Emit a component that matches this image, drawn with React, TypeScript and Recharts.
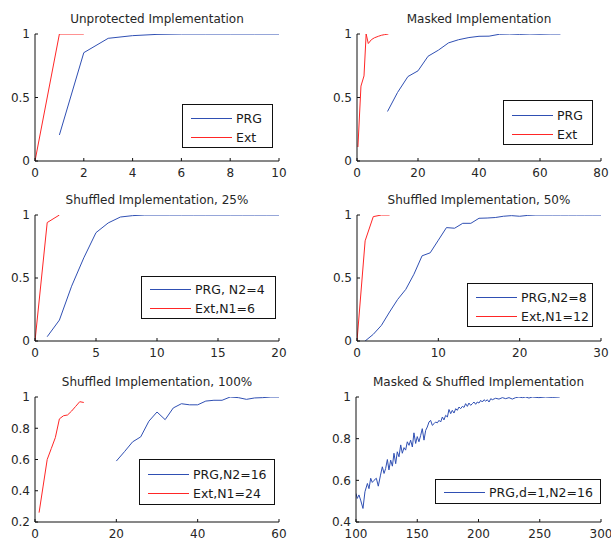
import React from 'react';
import { LineChart, Line, XAxis, YAxis, Legend } from 'recharts';

const FONT = '"DejaVu Sans", Verdana, sans-serif';
const BLUE = '#2f4fb3';
const RED = '#ff2626';

// Panel 1: Unprotected
const p1PrgX = [1, 2, 3, 4, 5, 6, 7, 8, 9, 10];
const p1PrgY = [0.205, 0.853, 0.966, 0.987, 0.997, 1, 1, 1, 1, 1];
const p1ExtX = [0, 1, 2];
const p1ExtY = [0, 1, 1];

// Panel 2: Masked
const p2PrgX = [10, 13.3, 16.7, 20, 23.3, 26.7, 30, 33.3, 36.7, 40, 43.3, 46.7, 50, 53.3, 56.7, 60, 63.3, 66.7];
const p2PrgY = [0.39, 0.54, 0.665, 0.71, 0.825, 0.873, 0.93, 0.955, 0.972, 0.982, 0.983, 0.998, 1, 0.997, 1, 0.998, 1, 1];
const p2ExtX = [0.3, 1.3, 2.3, 3, 3.7, 4.7, 5.7, 7, 8, 9, 10.3];
const p2ExtY = [0.11, 0.59, 0.67, 1, 0.925, 0.955, 0.97, 0.982, 0.99, 0.995, 1];

// Panel 3: Shuffled 25%
const p3PrgX = [1, 2, 3, 4, 5, 6, 7, 8, 9, 10, 11, 12, 13, 14, 15, 16, 17, 18, 19, 20];
const p3PrgY = [0.034, 0.166, 0.435, 0.66, 0.86, 0.937, 0.984, 0.995, 1, 1, 1, 1, 1, 1, 1, 1, 1, 1, 1, 1];
const p3ExtX = [0, 1, 2];
const p3ExtY = [0, 0.94, 1];

// Panel 4: Shuffled 50%
const p4PrgX = [1, 2, 3, 4, 5, 6, 7, 8, 9, 10, 11, 12, 13, 14, 15, 16, 17, 18, 19, 20, 21, 22, 23, 24, 25, 26, 27, 28, 29, 30];
const p4PrgY = [0, 0.053, 0.124, 0.23, 0.33, 0.41, 0.53, 0.676, 0.7, 0.8, 0.9, 0.895, 0.934, 0.934, 0.974, 0.976, 0.98, 0.99, 0.995, 0.99, 0.997, 1, 1, 1, 1, 1, 1, 1, 1, 1];
const p4ExtX = [0, 1, 2, 3, 4];
const p4ExtY = [0, 0.795, 0.987, 1, 1];

// Panel 5: Shuffled 100%
const p5PrgX = [20, 22, 24, 26, 28, 30, 32, 34, 36, 38, 40, 42, 44, 46, 48, 50, 52, 54, 56, 58, 60];
const p5PrgY = [0.59, 0.65, 0.713, 0.745, 0.845, 0.904, 0.855, 0.93, 0.957, 0.95, 0.95, 0.974, 0.979, 0.979, 1, 0.996, 0.985, 0.994, 0.996, 1, 1];
const p5ExtX = [1, 2, 3, 4, 5, 6, 7, 8, 9, 10, 11, 12];
const p5ExtY = [0.26, 0.43, 0.6, 0.67, 0.74, 0.86, 0.88, 0.885, 0.91, 0.94, 0.97, 0.965];

// Panel 6: Masked & Shuffled
const p6PrgX = [100, 101, 102.4, 103.8, 105.7, 107.3, 109.3, 110.6, 112, 113.3, 114.7, 116.6, 118.2, 120, 121.5, 122.9, 124.2, 125.6, 126.9, 128.3, 129.7, 131, 132.4, 133.7, 135.1, 136.5, 137.8, 139.2, 140.5, 141.9, 143.3, 144.6, 146, 147.3, 148.7, 150, 151.4, 152.8, 154.1, 155.5, 156.9, 158.2, 159.6, 160.9, 162.3, 163.7, 165, 166.4, 167.8, 169.1, 170.5, 171.8, 173.2, 174.6, 175.9, 177.3, 178.6, 180, 181.4, 182.7, 184.1, 185.4, 186.8, 188.2, 189.5, 190.9, 192.2, 193.6, 195, 196.3, 197.7, 199, 200.4, 201.8, 203.1, 204.5, 205.9, 207.2, 208.6, 210, 211.3, 214, 216.7, 219.5, 222.2, 224.9, 227.6, 230.3, 233, 235.8, 238.5, 241.2, 243.9, 249.3, 254.7, 260.2, 266.3];
const p6PrgY = [0.537, 0.513, 0.53, 0.505, 0.465, 0.545, 0.585, 0.56, 0.61, 0.59, 0.6, 0.61, 0.572, 0.625, 0.665, 0.633, 0.657, 0.7, 0.65, 0.697, 0.668, 0.73, 0.68, 0.737, 0.713, 0.77, 0.73, 0.757, 0.745, 0.785, 0.768, 0.793, 0.76, 0.828, 0.777, 0.81, 0.785, 0.816, 0.848, 0.793, 0.84, 0.856, 0.88, 0.888, 0.864, 0.872, 0.88, 0.876, 0.888, 0.88, 0.904, 0.89, 0.912, 0.904, 0.94, 0.92, 0.936, 0.923, 0.944, 0.936, 0.952, 0.944, 0.955, 0.95, 0.968, 0.955, 0.971, 0.96, 0.968, 0.976, 0.965, 0.976, 0.971, 0.984, 0.976, 0.987, 0.98, 0.987, 0.976, 0.992, 0.987, 0.994, 0.99, 0.997, 0.992, 0.997, 0.99, 0.997, 1, 0.997, 1, 0.995, 1, 0.997, 1, 0.998, 1];

const zip = (xs: number[], ys: number[]) => xs.map((x, i) => ({ x, y: ys[i] }));

type Series = { name: string; color: string; data: { x: number; y: number }[] };
type LegendRect = { left: number; top: number; width: number; height: number; padTop: number };
type PanelProps = {
  title: string;
  plotLeft: number;
  plotTop: number;
  plotW: number;
  plotH: number;
  xDomain: [number, number];
  xTicks: number[];
  yDomain: [number, number];
  yTicks: number[];
  series: Series[];
  legend: LegendRect;
};

const YW = 40;
const MT = 34;
const MR = 10;
const XH = 19;
const TICK = { fontFamily: FONT, fontSize: 12, fill: '#262626' };

const LegendBox = (props: any) => {
  const { payload, padTop, order } = props;
  const items = [...(payload || [])].sort(
    (a: any, b: any) => order.indexOf(a.value) - order.indexOf(b.value)
  );
  return (
    <div
      style={{
        width: '100%',
        height: '100%',
        boxSizing: 'border-box',
        border: '1px solid #111',
        background: '#fff',
        paddingTop: padTop,
      }}
    >
      {items.map((p: any, i: number) => (
        <div key={i} style={{ display: 'flex', alignItems: 'center', height: 19 }}>
          <div style={{ marginLeft: 8, width: 41, height: 0, borderTop: `1px solid ${p.color}` }} />
          <span
            style={{
              marginLeft: 4,
              fontFamily: FONT,
              fontSize: 12.5,
              color: '#1a1a1a',
              whiteSpace: 'nowrap',
              lineHeight: '19px',
            }}
          >
            {p.value}
          </span>
        </div>
      ))}
    </div>
  );
};

const Panel = (p: PanelProps) => {
  const cLeft = p.plotLeft - YW;
  const cTop = p.plotTop - MT;
  const width = YW + p.plotW + MR;
  const height = MT + p.plotH + XH;
  const order = p.series.map((s) => s.name);
  return (
    <>
      <div
        style={{
          position: 'absolute',
          left: p.plotLeft - 20,
          top: p.plotTop - 22,
          width: p.plotW + 40,
          textAlign: 'center',
          fontFamily: FONT,
          fontSize: 12,
          lineHeight: '14px',
          color: '#262626',
          whiteSpace: 'nowrap',
        }}
      >
        {p.title}
      </div>
      <div style={{ position: 'absolute', left: cLeft, top: cTop }}>
        <LineChart width={width} height={height} margin={{ top: MT, right: MR, bottom: 0, left: 0 }}>
          <XAxis
            xAxisId="b"
            type="number"
            dataKey="x"
            domain={p.xDomain}
            ticks={p.xTicks}
            allowDataOverflow
            height={XH}
            tickSize={-3}
            tickMargin={10}
            tick={TICK}
            stroke="#111"
            interval={0}
          />
          <XAxis
            xAxisId="t"
            orientation="top"
            type="number"
            domain={p.xDomain}
            ticks={p.xTicks}
            allowDataOverflow
            height={0}
            tickSize={-3}
            tick={false}
            stroke="#111"
            interval={0}
          />
          <YAxis
            yAxisId="l"
            type="number"
            domain={p.yDomain}
            ticks={p.yTicks}
            allowDataOverflow
            width={YW}
            tickSize={-3}
            tickMargin={8}
            tick={TICK}
            stroke="#111"
            interval={0}
          />
          <YAxis
            yAxisId="r"
            orientation="right"
            type="number"
            domain={p.yDomain}
            ticks={p.yTicks}
            allowDataOverflow
            width={0}
            tickSize={-3}
            tick={false}
            stroke="#111"
            interval={0}
          />
          {p.series.map((s) => (
            <Line
              key={s.name}
              xAxisId="b"
              yAxisId="l"
              data={s.data}
              dataKey="y"
              name={s.name}
              stroke={s.color}
              strokeWidth={1}
              dot={false}
              activeDot={false}
              isAnimationActive={false}
              type="linear"
            />
          ))}
          <Legend
            layout="vertical"
            align="center"
            verticalAlign="middle"
            content={<LegendBox padTop={p.legend.padTop} order={order} />}
            wrapperStyle={{
              position: 'absolute',
              left: p.legend.left - cLeft,
              top: p.legend.top - cTop,
              width: p.legend.width,
              height: p.legend.height,
            }}
          />
        </LineChart>
      </div>
    </>
  );
};

export default function App() {
  return (
    <div style={{ position: 'absolute', left: 0, top: 0, width: 612, height: 541, background: '#fff', overflow: 'hidden' }}>
      <Panel
        title="Unprotected Implementation"
        plotLeft={35}
        plotTop={34}
        plotW={244}
        plotH={127}
        xDomain={[0, 10]}
        xTicks={[0, 2, 4, 6, 8, 10]}
        yDomain={[0, 1]}
        yTicks={[0, 0.5, 1]}
        series={[
          { name: 'PRG', color: BLUE, data: zip(p1PrgX, p1PrgY) },
          { name: 'Ext', color: RED, data: zip(p1ExtX, p1ExtY) },
        ]}
        legend={{ left: 182, top: 104, width: 91, height: 44, padTop: 3.5 }}
      />
      <Panel
        title="Masked Implementation"
        plotLeft={357}
        plotTop={34}
        plotW={244}
        plotH={127}
        xDomain={[0, 80]}
        xTicks={[0, 20, 40, 60, 80]}
        yDomain={[0, 1]}
        yTicks={[0, 0.5, 1]}
        series={[
          { name: 'PRG', color: BLUE, data: zip(p2PrgX, p2PrgY) },
          { name: 'Ext', color: RED, data: zip(p2ExtX, p2ExtY) },
        ]}
        legend={{ left: 503, top: 100, width: 90, height: 45, padTop: 4.5 }}
      />
      <Panel
        title="Shuffled Implementation, 25%"
        plotLeft={35}
        plotTop={215}
        plotW={244}
        plotH={126}
        xDomain={[0, 20]}
        xTicks={[0, 5, 10, 15, 20]}
        yDomain={[0, 1]}
        yTicks={[0, 0.5, 1]}
        series={[
          { name: 'PRG, N2=4', color: BLUE, data: zip(p3PrgX, p3PrgY) },
          { name: 'Ext,N1=6', color: RED, data: zip(p3ExtX, p3ExtY) },
        ]}
        legend={{ left: 141, top: 276, width: 135, height: 43, padTop: 2.5 }}
      />
      <Panel
        title="Shuffled Implementation, 50%"
        plotLeft={357}
        plotTop={215}
        plotW={244}
        plotH={126}
        xDomain={[0, 30]}
        xTicks={[0, 10, 20, 30]}
        yDomain={[0, 1]}
        yTicks={[0, 0.5, 1]}
        series={[
          { name: 'PRG,N2=8', color: BLUE, data: zip(p4PrgX, p4PrgY) },
          { name: 'Ext,N1=12', color: RED, data: zip(p4ExtX, p4ExtY) },
        ]}
        legend={{ left: 467, top: 283, width: 126, height: 44, padTop: 3.5 }}
      />
      <Panel
        title="Shuffled Implementation, 100%"
        plotLeft={35}
        plotTop={397}
        plotW={244}
        plotH={125}
        xDomain={[0, 60]}
        xTicks={[0, 20, 40, 60]}
        yDomain={[0.2, 1]}
        yTicks={[0.2, 0.4, 0.6, 0.8, 1]}
        series={[
          { name: 'PRG,N2=16', color: BLUE, data: zip(p5PrgX, p5PrgY) },
          { name: 'Ext,N1=24', color: RED, data: zip(p5ExtX, p5ExtY) },
        ]}
        legend={{ left: 139, top: 459, width: 136, height: 46, padTop: 4.5 }}
      />
      <Panel
        title="Masked & Shuffled Implementation"
        plotLeft={356}
        plotTop={397}
        plotW={245}
        plotH={125}
        xDomain={[100, 300]}
        xTicks={[100, 150, 200, 250, 300]}
        yDomain={[0.4, 1]}
        yTicks={[0.4, 0.6, 0.8, 1]}
        series={[{ name: 'PRG,d=1,N2=16', color: BLUE, data: zip(p6PrgX, p6PrgY) }]}
        legend={{ left: 435, top: 479, width: 166, height: 25, padTop: 2.5 }}
      />
    </div>
  );
}
